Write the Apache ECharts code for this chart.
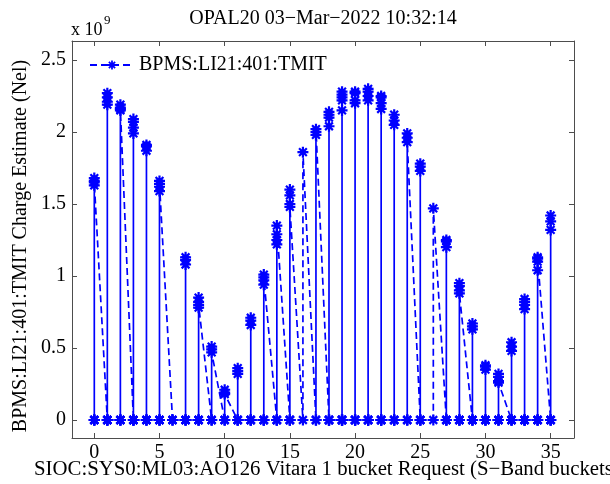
<!DOCTYPE html>
<html>
<head>
<meta charset="utf-8">
<script src="https://cdn.jsdelivr.net/npm/echarts@6/dist/echarts.min.js"></script>
<style>
html,body{margin:0;padding:0;background:#fff;}
#chart{width:610px;height:484px;}
</style>
</head>
<body>
<div id="chart"></div>
<script>
// Bucket request steps (x)
const buckets = [0,1,2,3,4,5,6,7,8,9,10,11,12,13,14,15,16,17,18,19,20,21,22,23,24,25,26,27,28,29,30,31,32,33,34,35];
// TMIT readings at each step, in order of acquisition (units of 1e9 Nel)
const tmit = [
  [0,1.66,0,1.63,0,1.68,0,1.65],
  [0,2.27,0,2.19,0,2.24,0,2.21,0],
  [0,2.17,0,2.15,0,2.19,0,2.16],
  [0,2.07,0,1.99,0,2.03,0,2.09,0],
  [0,1.90,0,1.87,0,1.91,0],
  [0,1.62,0,1.66,0,1.59,0,1.64],
  [0,0,0],
  [0,1.11,0,1.13,0,1.08,0],
  [0,0.82,0,0.85,0,0.78,0,0.80],
  [0,0.49,0,0.51,0,0.47],
  [0,0.19,0,0.21,0,0.18],
  [0,0.34,0,0.36,0,0.32,0],
  [0,0.69,0,0.71,0,0.66,0],
  [0,0.97,0,1.01,0,0.94,0,0.99],
  [0,1.25,0,1.22,0,1.29,0,1.35],
  [0,1.50,0,1.56,0,1.60,0,1.48],
  [0,1.86],
  [0,2.00,0,1.98,0,2.02],
  [0,2.14,0,2.10,0,2.04,0,2.12,0],
  [0,2.26,0,2.22,0,2.28,0,2.15,0,2.24,0],
  [0,2.27,0,2.22,0,2.28,0,2.20,0],
  [0,2.30,0,2.28,0,2.22,0,2.25,0],
  [0,2.24,0,2.20,0,2.16,0,2.25,0],
  [0,2.12,0,2.08,0,2.05,0],
  [0,1.96,0,1.99,0,1.93],
  [0,1.76,0,1.73,0,1.78,0],
  [0,1.47],
  [0,1.24,0,1.20,0,1.25,0],
  [0,0.93,0,0.90,0,0.95,0,0.88],
  [0,0.65,0,0.63,0,0.67,0],
  [0,0.37,0,0.35,0,0.38,0],
  [0,0.30,0,0.27,0,0.32,0,0.26],
  [0,0.51,0,0.48,0,0.54,0],
  [0,0.84,0,0.80,0,0.77,0,0.82,0],
  [0,1.10,0,1.13,0,1.04,0,1.12],
  [0,1.42,0,1.38,0,1.32,0]
];
const xTicks = [0,5,10,15,20,25,30,35];
const yTicks = [0,0.5,1,1.5,2,2.5];
const yTickLabels = ['0','0.5','1','1.5','2','2.5'];
const seriesName = 'BPMS:LI21:401:TMIT';
const titleText = 'OPAL20 03\u2212Mar\u22122022 10:32:14';
const xLabelText = 'SIOC:SYS0:ML03:AO126 Vitara 1 bucket Request (S\u2212Band buckets)';
const yLabelText = 'BPMS:LI21:401:TMIT Charge Estimate (Nel)';

const data = [];
buckets.forEach((b, i) => tmit[i].forEach(v => data.push([b, v])));

const FONT = "'Liberation Serif','Times New Roman',serif";
const AX = '#4d4d4d';
const star = 'path://M8 0L12 0L12 20L8 20Z M0 8L20 8L20 12L0 12Z M4.34 1.51L18.49 15.66L15.66 18.49L1.51 4.34Z M18.49 4.34L4.34 18.49L1.51 15.66L15.66 1.51Z';

const xMin = -1.71, xMax = 36.79, yMin = -0.125, yMax = 2.632;

function xAx(pos, labels) {
  return {
    type: 'value', position: pos, min: xMin, max: xMax,
    axisLine: {show: true, onZero: false, lineStyle: {color: AX, width: 1}},
    axisTick: {show: true, inside: true, length: 5, customValues: xTicks, lineStyle: {color: AX}},
    axisLabel: {show: labels, customValues: xTicks, fontSize: 20, fontFamily: FONT, color: '#000', margin: 5},
    splitLine: {show: false}
  };
}
function yAx(pos, labels) {
  return {
    type: 'value', position: pos, min: yMin, max: yMax,
    axisLine: {show: true, onZero: false, lineStyle: {color: AX, width: 1}},
    axisTick: {show: true, inside: true, length: 5, customValues: yTicks, lineStyle: {color: AX}},
    axisLabel: {show: labels, customValues: yTicks, fontSize: 20, fontFamily: FONT, color: '#000', margin: 6,
      formatter: v => { const i = yTicks.findIndex(t => Math.abs(t - v) < 1e-9); return i >= 0 ? yTickLabels[i] : ''; }},
    splitLine: {show: false}
  };
}

const chart = echarts.init(document.getElementById('chart'), null, {renderer: 'canvas'});
chart.setOption({
  animation: false,
  backgroundColor: '#fff',
  grid: {left: 72, right: 36, top: 41, bottom: 46, containLabel: false},
  xAxis: [xAx('bottom', true), xAx('top', false)],
  yAxis: [yAx('left', true), yAx('right', false)],
  legend: {
    data: [seriesName], left: 84, top: 50, itemWidth: 44, itemHeight: 11, itemGap: 6,
    textStyle: {fontSize: 20, fontFamily: FONT, color: '#000'}
  },
  series: [{
    name: seriesName, type: 'line', xAxisIndex: 0, yAxisIndex: 0,
    data: data, symbol: star, symbolSize: 11, showAllSymbol: true,
    lineStyle: {color: '#0000ff', width: 1.7, type: [7, 4]},
    itemStyle: {color: '#0000ff'},
    emphasis: {disabled: true}
  }],
  graphic: [
    {type: 'text', x: 323, y: 19, style: {text: titleText, font: '20px ' + FONT, fill: '#000', align: 'center', verticalAlign: 'middle'}},
    {type: 'text', x: 71, y: 21, style: {text: 'x 10', font: '18px ' + FONT, fill: '#000'}},
    {type: 'text', x: 104, y: 14, style: {text: '9', font: '13px ' + FONT, fill: '#000'}},
    {type: 'text', x: 34, y: 470, style: {text: xLabelText, font: '20.8px ' + FONT, fill: '#000', verticalAlign: 'middle'}},
    {type: 'text', x: 21, y: 246, rotation: Math.PI / 2,
      style: {text: yLabelText, font: '20px ' + FONT, fill: '#000', align: 'center', verticalAlign: 'middle'}}
  ]
});
</script>
</body>
</html>
